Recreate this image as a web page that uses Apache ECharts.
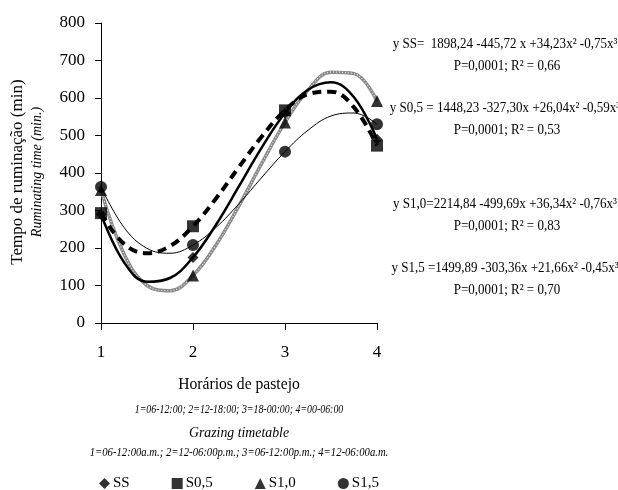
<!DOCTYPE html>
<html>
<head>
<meta charset="utf-8">
<script src="https://cdn.jsdelivr.net/npm/echarts@6/dist/echarts.min.js"></script>
<style>
  html, body { margin: 0; padding: 0; background: #fff; }
  #chart { width: 618px; height: 490px; }
</style>
</head>
<body>
<div id="chart"></div>
<script>
// observed means at each grazing timetable
const xTicks = [1, 2, 3, 4]
const ssObs = [290, 175, 560, 490]
const s05Obs = [293, 258, 567, 473]
const s10Obs = [355, 127, 535, 592]
const s15Obs = [363, 208, 457, 530]

// fitted curves, every quarter step
const curveX = [1, 1.25, 1.5, 1.75, 2, 2.25, 2.5, 2.75, 3, 3.25, 3.5, 3.75, 4]
const ssCurve = [290, 162, 110, 120, 175, 262, 365, 469, 560, 622, 642, 602, 490]
const s05Curve = [293, 211, 186, 205, 258, 332, 416, 498, 567, 610, 617, 575, 473]
const s10Curve = [355, 184, 100, 86, 127, 208, 313, 427, 535, 621, 669, 665, 592]
const s15Curve = [363, 255, 199, 186, 208, 255, 318, 389, 457, 514, 552, 560, 530]

const seriesNames = ['SS', 'S0,5', 'S1,0', 'S1,5']
const equations = [
  'y SS=  1898,24 -445,72 x +34,23x² -0,75x³',
  'y S0,5 = 1448,23 -327,30x +26,04x² -0,59x³',
  'y S1,0=2214,84 -499,69x +36,34x² -0,76x³',
  'y S1,5 =1499,89 -303,36x +21,66x² -0,45x³'
]
const stats = [
  'P=0,0001; R² = 0,66',
  'P=0,0001; R² = 0,53',
  'P=0,0001; R² = 0,83',
  'P=0,0001; R² = 0,70'
]

const serif = 'Liberation Serif'
const pair = (xs, ys) => xs.map((x, i) => [x, ys[i]])

function label(x, y, text, font, extra) {
  return Object.assign({
    type: 'text', x, y,
    style: { text, font, fill: '#000', align: 'center', verticalAlign: 'middle' }
  }, extra || {})
}

const chart = echarts.init(document.getElementById('chart'))

const eqTop = [44, 108, 204, 268]
const graphics = []
equations.forEach((eq, i) => {
  graphics.push(label(505, eqTop[i], eq, '14px ' + serif, { scaleX: 0.93 }))
  graphics.push(label(507, eqTop[i] + 22, stats[i], '14px ' + serif, { scaleX: 0.93 }))
})
graphics.push(
  label(18, 172, 'Tempo de ruminação (min)', '17px ' + serif, { rotation: Math.PI / 2 }),
  label(37, 172, 'Ruminating time (min.)', 'italic 14px ' + serif, { rotation: Math.PI / 2 }),
  label(239, 385, 'Horários de pastejo', '17px ' + serif, { scaleX: 0.92 }),
  label(239, 410, '1=06-12:00; 2=12-18:00; 3=18-00:00; 4=00-06:00', 'italic 13px ' + serif, { scaleX: 0.76 }),
  label(239, 433, 'Grazing timetable', 'italic 15px ' + serif, { scaleX: 0.92 }),
  label(239, 453, '1=06-12:00a.m.; 2=12-06:00p.m.; 3=06-12:00p.m.; 4=12-06:00a.m.', 'italic 13px ' + serif, { scaleX: 0.82 })
)

chart.setOption({
  backgroundColor: '#fff',
  animation: false,
  grid: { left: 101, top: 23, width: 276, height: 300 },
  legend: {
    data: seriesNames,
    left: 99, top: 476, padding: 0,
    itemWidth: 11, itemHeight: 11, itemGap: 42,
    textStyle: { fontFamily: serif, fontSize: 15, color: '#000', padding: [0, 0, 0, -2] }
  },
  graphic: graphics,
  xAxis: {
    type: 'value', min: 1, max: 4, interval: 1,
    axisLine: { onZero: false, lineStyle: { color: '#000', width: 1 } },
    axisTick: { length: 7, lineStyle: { color: '#000' } },
    axisLabel: { margin: 21, fontFamily: serif, fontSize: 17, color: '#000' },
    splitLine: { show: false }
  },
  yAxis: {
    type: 'value', min: 0, max: 800, interval: 100,
    axisLine: { show: true, lineStyle: { color: '#000', width: 1 } },
    axisTick: { show: true, length: 6, lineStyle: { color: '#000' } },
    axisLabel: { margin: 16, fontFamily: serif, fontSize: 17, color: '#000' },
    splitLine: { show: false }
  },
  series: [
    { name: 'S1,0 fit', type: 'line', data: pair(curveX, s10Curve), smooth: 0.4, showSymbol: false,
      lineStyle: { color: '#8a8a8a', width: 3.5 }, z: 2 },
    { name: 'S1,0 fit hatch', type: 'line', data: pair(curveX, s10Curve), smooth: 0.4, showSymbol: false,
      lineStyle: { color: '#e6e6e6', width: 1.2, type: [1, 2] }, z: 2 },
    { name: 'S1,5 fit', type: 'line', data: pair(curveX, s15Curve), smooth: 0.4, showSymbol: false,
      lineStyle: { color: '#000', width: 1 }, z: 3 },
    { name: 'S0,5 fit', type: 'line', data: pair(curveX, s05Curve), smooth: 0.4, showSymbol: false,
      lineStyle: { color: '#000', width: 4, type: [9, 6] }, z: 3 },
    { name: 'SS fit', type: 'line', data: pair(curveX, ssCurve), smooth: 0.4, showSymbol: false,
      lineStyle: { color: '#000', width: 2.5 }, z: 3 },
    { name: 'SS', type: 'scatter', data: pair(xTicks, ssObs), symbol: 'diamond', symbolSize: 11,
      itemStyle: { color: '#000' }, z: 5 },
    { name: 'S0,5', type: 'scatter', data: pair(xTicks, s05Obs), symbol: 'rect', symbolSize: 12,
      itemStyle: { color: '#000' }, z: 5 },
    { name: 'S1,0', type: 'scatter', data: pair(xTicks, s10Obs), symbol: 'triangle', symbolSize: 12,
      itemStyle: { color: '#000' }, z: 5 },
    { name: 'S1,5', type: 'scatter', data: pair(xTicks, s15Obs), symbol: 'circle', symbolSize: 12,
      itemStyle: { color: '#000' }, z: 5 }
  ]
})
</script>
</body>
</html>
